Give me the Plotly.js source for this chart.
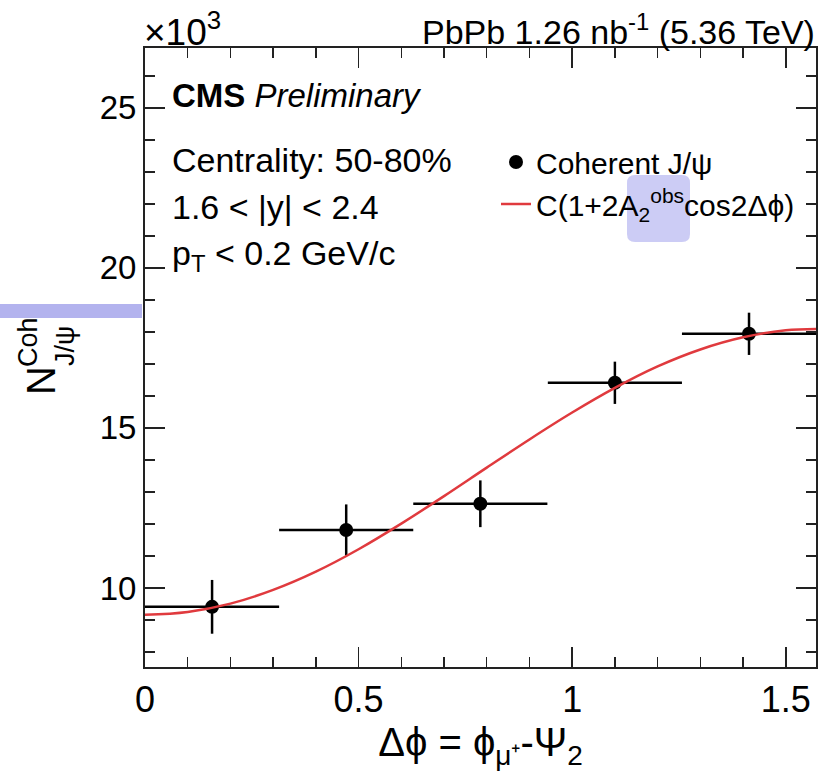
<!DOCTYPE html>
<html>
<head>
<meta charset="utf-8">
<script src="https://cdn.plot.ly/plotly-3.0.1.min.js"></script>
<style>body{margin:0;background:#fff}#plot{width:820px;height:780px}</style>
</head>
<body>
<div id="plot"></div>
<script>
// Data (values in units of 10^3)
const binCenters = [0.157, 0.471, 0.785, 1.100, 1.414];
const binHalfWidth = [0.157, 0.157, 0.157, 0.157, 0.157];
const yieldCoh = [9.41, 11.81, 12.63, 16.41, 17.94];
const yieldErr = [0.84, 0.80, 0.73, 0.66, 0.66];
// fit curve
const fitX = [0, 0.1, 0.2, 0.3, 0.4, 0.5, 0.6, 0.7, 0.8, 0.9, 1.0, 1.1, 1.2, 1.3, 1.4, 1.5, 1.5708];
const fitY = [9.16, 9.25, 9.51, 9.94, 10.51, 11.21, 12.01, 12.87, 13.76, 14.64, 15.48, 16.25, 16.92, 17.45, 17.83, 18.05, 18.09];
const xTickVals = [0, 0.5, 1, 1.5];
const xTickText = ['0', '0.5', '1', '1.5'];
const yTickVals = [10, 15, 20, 25];

const FONT = 'Liberation Sans, Arial, sans-serif';

// plot-area pixel geometry helpers for annotations
const L = 145, R = 816, T = 48, B = 667;
const px = v => (v - L) / (R - L);
const py = v => (B - v) / (B - T);

const traces = [
  {
    x: binCenters, y: yieldCoh, type: 'scatter', mode: 'markers',
    name: 'Coherent J/ψ',
    marker: {color: '#000', size: 14, symbol: 'circle'},
    error_x: {type: 'data', array: binHalfWidth, symmetric: true, color: '#000', thickness: 2.5, width: 0},
    error_y: {type: 'data', array: yieldErr, symmetric: true, color: '#000', thickness: 2.5, width: 0},
    cliponaxis: false
  },
  {
    x: fitX, y: fitY, type: 'scatter', mode: 'lines',
    name: 'C(1+2A<sub>2</sub><sup>obs</sup>cos2Δϕ)',
    line: {color: '#e03a3e', width: 2.5, shape: 'spline'}
  }
];

const axisCommon = {
  showline: true, linecolor: '#222', linewidth: 2, mirror: 'ticks',
  ticks: 'inside', ticklen: 20, tickwidth: 1.5, tickcolor: '#222',
  showgrid: false, zeroline: false
};

const layout = {
  width: 820, height: 780,
  margin: {l: L, r: 820 - R, t: T, b: 780 - B},
  paper_bgcolor: '#fff', plot_bgcolor: '#fff',
  font: {family: FONT, color: '#000', size: 34},
  showlegend: true,
  legend: {x: px(496), y: py(136), xanchor: 'left', yanchor: 'top',
           bgcolor: 'rgba(0,0,0,0)', font: {size: 30, family: FONT}, tracegroupgap: 0},
  xaxis: Object.assign({}, axisCommon, {
    range: [0, 1.5708], tickvals: xTickVals, ticktext: xTickText,
    tickfont: {size: 36, family: FONT},
    minor: {dtick: 0.1, tick0: 0, ticks: 'inside', ticklen: 10, tickwidth: 1.5, tickcolor: '#222'},
    title: {text: 'Δϕ = ϕ<sub>μ⁺</sub>-Ψ<sub>2</sub>', font: {size: 40, family: FONT}, standoff: 6}
  }),
  yaxis: Object.assign({}, axisCommon, {
    range: [7.53, 26.87], tickvals: yTickVals,
    tickfont: {size: 33, family: FONT},
    minor: {dtick: 1, tick0: 0, ticks: 'inside', ticklen: 10, tickwidth: 1.5, tickcolor: '#222'},
    title: {text: ''}
  }),
  shapes: [
    {type: 'rect', xref: 'paper', yref: 'paper', x0: px(0), x1: px(142), y0: py(318), y1: py(304),
     fillcolor: '#b3b3ee', line: {width: 0}, layer: 'below'},
    {type: 'path', xref: 'paper', yref: 'paper', layer: 'above', fillcolor: 'rgba(170,170,238,0.6)', line: {width: 0},
     path: (function(){
       const x0 = px(627), x1 = px(690), y0 = py(242), y1 = py(175);
       const rx = 8 / (R - L), ry = 8 / (B - T);
       return `M ${x0+rx} ${y0} L ${x1-rx} ${y0} Q ${x1} ${y0} ${x1} ${y0+ry} L ${x1} ${y1-ry} Q ${x1} ${y1} ${x1-rx} ${y1} L ${x0+rx} ${y1} Q ${x0} ${y1} ${x0} ${y1-ry} L ${x0} ${y0+ry} Q ${x0} ${y0} ${x0+rx} ${y0} Z`;
     })()}
  ],
  annotations: [
    {text: '×10<sup>3</sup>', xref: 'paper', yref: 'paper', x: px(142), y: py(30), xanchor: 'left', yanchor: 'middle', showarrow: false, font: {size: 37}},
    {text: 'PbPb 1.26 nb<sup>-1</sup> (5.36 TeV)', xref: 'paper', yref: 'paper', x: px(817), y: py(30), xanchor: 'right', yanchor: 'middle', showarrow: false, font: {size: 34}},
    {text: '<b>CMS</b> <i>Preliminary</i>', xref: 'paper', yref: 'paper', x: px(170), y: py(95), xanchor: 'left', yanchor: 'middle', showarrow: false, font: {size: 33}},
    {text: 'Centrality: 50-80%', xref: 'paper', yref: 'paper', x: px(170), y: py(160), xanchor: 'left', yanchor: 'middle', showarrow: false, font: {size: 34}},
    {text: '1.6 &lt; |y| &lt; 2.4', xref: 'paper', yref: 'paper', x: px(170), y: py(207), xanchor: 'left', yanchor: 'middle', showarrow: false, font: {size: 34}},
    {text: 'p<sub>T</sub> &lt; 0.2 GeV/c', xref: 'paper', yref: 'paper', x: px(170), y: py(255), xanchor: 'left', yanchor: 'middle', showarrow: false, font: {size: 34}},
    {text: 'N', xref: 'paper', yref: 'paper', x: px(41), y: py(381), xanchor: 'center', yanchor: 'middle', textangle: -90, showarrow: false, font: {size: 40}},
    {text: 'Coh', xref: 'paper', yref: 'paper', x: px(28), y: py(342), xanchor: 'center', yanchor: 'middle', textangle: -90, showarrow: false, font: {size: 27}},
    {text: 'J/ψ', xref: 'paper', yref: 'paper', x: px(65), y: py(346), xanchor: 'center', yanchor: 'middle', textangle: -90, showarrow: false, font: {size: 27}}
  ]
};

Plotly.newPlot('plot', traces, layout, {displayModeBar: false, staticPlot: true});
</script>
</body>
</html>
